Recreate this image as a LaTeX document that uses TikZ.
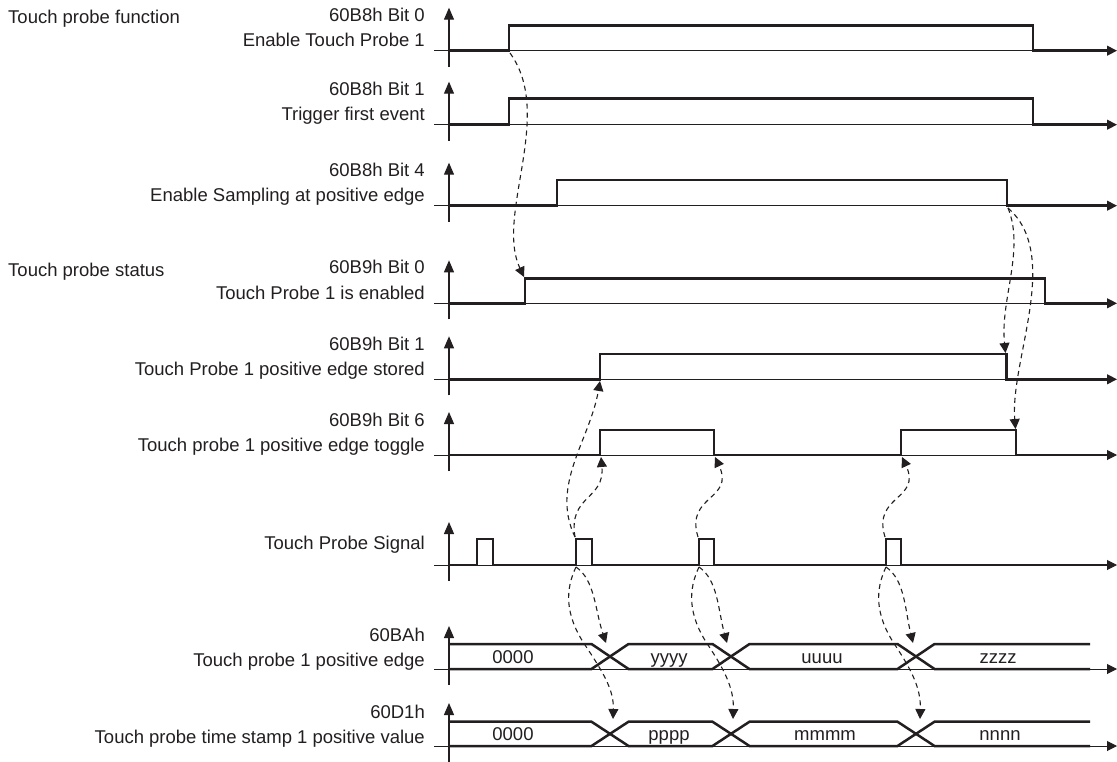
\documentclass[tikz,border=0pt]{standalone}
\usepackage{fontspec}
\setmainfont{Liberation Sans}
\usetikzlibrary{arrows.meta}
\definecolor{ink}{HTML}{231F20}
\begin{document}
\begin{tikzpicture}[x=1pt,y=-1pt,
  lab/.style={anchor=base east,inner sep=0pt,font=\fontsize{18.5}{22}\selectfont,text=ink},
  grp/.style={anchor=base west,inner sep=0pt,font=\fontsize{18.5}{22}\selectfont,text=ink},
  val/.style={anchor=base,inner sep=0pt,font=\fontsize{18.5}{22}\selectfont,text=ink},
  sig/.style={draw=ink,line width=2.5pt,line join=miter},
  baseaxis/.style={draw=ink,line width=1pt,-{Triangle[length=10pt,width=10pt]}},
  yaxis/.style={draw=ink,line width=1.2pt,-{Triangle[length=12pt,width=10pt]}},
  depend/.style={draw=ink,line width=1.1pt,dash pattern=on 5pt off 4pt,-{Triangle[length=10pt,width=10pt]}}]
\useasboundingbox (0,0) rectangle (1117,762);

% axes
\foreach \b/\n in {50.7/r1,124.7/r2,205.7/r3,303.3/r4,379.3/r5,455/r6,565/r7,669/r8,746/r9}{
  \coordinate (\n s) at (434,\b);
  \coordinate (\n e) at (1117,\b);
  \coordinate (\n b) at (449,\b+16);
  \coordinate (\n t) at (449,\b-43);
  \draw[baseaxis] (\n s) -- (\n e);
  \draw[yaxis] (\n b) -- (\n t);
}

% group labels
\node[grp] (g1) at (8,23.3) {Touch probe function};
\node[grp] (g2) at (8,276.7) {Touch probe status};

% row labels
\node[lab] (l1a) at (425,21.7) {60B8h Bit 0};
\node[lab] (l1b) at (425,46.7) {Enable Touch Probe 1};
\node[lab] (l2a) at (425,95.7) {60B8h Bit 1};
\node[lab] (l2b) at (425,120.7) {Trigger first event};
\node[lab] (l3a) at (425,176.7) {60B8h Bit 4};
\node[lab] (l3b) at (425,201.7) {Enable Sampling at positive edge};
\node[lab] (l4a) at (425,273.3) {60B9h Bit 0};
\node[lab] (l4b) at (425,299.3) {Touch Probe 1 is enabled};
\node[lab] (l5a) at (425,350.3) {60B9h Bit 1};
\node[lab] (l5b) at (425,375.3) {Touch Probe 1 positive edge stored};
\node[lab] (l6a) at (425,426) {60B9h Bit 6};
\node[lab] (l6b) at (425,451) {Touch probe 1 positive edge toggle};
\node[lab] (l7a) at (425,549.5) {Touch Probe Signal};
\node[lab] (l8a) at (425,641.7) {60BAh};
\node[lab] (l8b) at (425,666.2) {Touch probe 1 positive edge};
\node[lab] (l9a) at (425,718.3) {60D1h};
\node[lab] (l9b) at (425,743.5) {Touch probe time stamp 1 positive value};

% waveforms
\draw[sig] (449,50.7) -- (509,50.7) -- (509,25.3) -- (1033,25.3) -- (1033,50.7) -- (1108,50.7);
\draw[sig] (449,124.7) -- (509,124.7) -- (509,98.7) -- (1033,98.7) -- (1033,124.7) -- (1108,124.7);
\draw[sig] (449,205.7) -- (557,205.7) -- (557,180) -- (1007,180) -- (1007,205.7) -- (1108,205.7);
\draw[sig] (449,303.3) -- (525,303.3) -- (525,278.3) -- (1045,278.3) -- (1045,303.3) -- (1108,303.3);
\draw[sig] (449,379.3) -- (600,379.3) -- (600,354) -- (1006.7,354) -- (1006.7,379.3) -- (1108,379.3);
\draw[sig] (449,455) -- (600,455) -- (600,430) -- (714,430) -- (714,455) -- (901,455) -- (901,430) -- (1016,430) -- (1016,455) -- (1108,455);
\draw[sig] (449,565) -- (477,565) -- (477,539) -- (493,539) -- (493,565) -- (576,565) -- (576,539) -- (592,539) -- (592,565)
  -- (699,565) -- (699,539) -- (714,539) -- (714,565) -- (886,565) -- (886,539) -- (901,539) -- (901,565) -- (1108,565);

% data rows
\foreach \t/\u in {644/669,721.7/746}{
  \draw[sig] (449,\t) -- (591.5,\t) -- (628.5,\u) -- (712.5,\u) -- (749.5,\t) -- (897.5,\t) -- (934.5,\u) -- (1090,\u);
  \draw[sig] (449,\u) -- (591.5,\u) -- (628.5,\t) -- (712.5,\t) -- (749.5,\u) -- (897.5,\u) -- (934.5,\t) -- (1090,\t);
}
\node[val] (v81) at (513,663.3) {0000};
\node[val] (v82) at (669,663.3) {yyyy};
\node[val] (v83) at (822,663.3) {uuuu};
\node[val] (v84) at (998,663.3) {zzzz};
\node[val] (v91) at (513,740.5) {0000};
\node[val] (v92) at (669,740.5) {pppp};
\node[val] (v93) at (825,740.5) {mmmm};
\node[val] (v94) at (1000,740.5) {nnnn};

% edge points
\coordinate (e1r) at (510,53);
\coordinate (e4r) at (524,277);
\coordinate (e3f) at (1008,208);
\coordinate (e5f) at (1005.5,353);
\coordinate (e6f2) at (1015.5,429);
\coordinate (p2t) at (575,537);
\coordinate (p2b) at (576,567);
\coordinate (p3t) at (698,537);
\coordinate (p3b) at (699,567);
\coordinate (p4t) at (885,537);
\coordinate (p4b) at (886,567);
\coordinate (e5r) at (600,381);
\coordinate (e6r1) at (601,457);
\coordinate (e6f1) at (715,457);
\coordinate (e6r2) at (902,457);
\coordinate (x81) at (606,643);
\coordinate (x82) at (727,643);
\coordinate (x83) at (913,643);
\coordinate (x91) at (613,719);
\coordinate (x92) at (733,719);
\coordinate (x93) at (920,719);

% dependency arrows
\draw[depend] (e1r) .. controls (555,115) and (495,215) .. (e4r);
\draw[depend] (e3f) .. controls (1025,250) and (1000,300) .. (e5f);
\draw[depend] (e3f) .. controls (1062,255) and (1010,360) .. (e6f2);
\draw[depend] (p2t) .. controls (550,485) and (590,440) .. (e5r);
\draw[depend] (p2t) .. controls (568,495) and (605,500) .. (e6r1);
\draw[depend] (p3t) .. controls (685,495) and (735,500) .. (e6f1);
\draw[depend] (p4t) .. controls (872,495) and (922,500) .. (e6r2);
\draw[depend] (p2b) .. controls (595,580) and (595,610) .. (x81);
\draw[depend] (p3b) .. controls (718,580) and (718,610) .. (x82);
\draw[depend] (p4b) .. controls (905,580) and (905,610) .. (x83);
\draw[depend] (p2b) .. controls (565,590) and (565,615) .. (585,645) .. controls (603,672) and (614,690) .. (x91);
\draw[depend] (p3b) .. controls (688,590) and (688,615) .. (708,645) .. controls (726,672) and (734,690) .. (x92);
\draw[depend] (p4b) .. controls (875,590) and (875,615) .. (895,645) .. controls (913,672) and (921,690) .. (x93);
\end{tikzpicture}
\end{document}
